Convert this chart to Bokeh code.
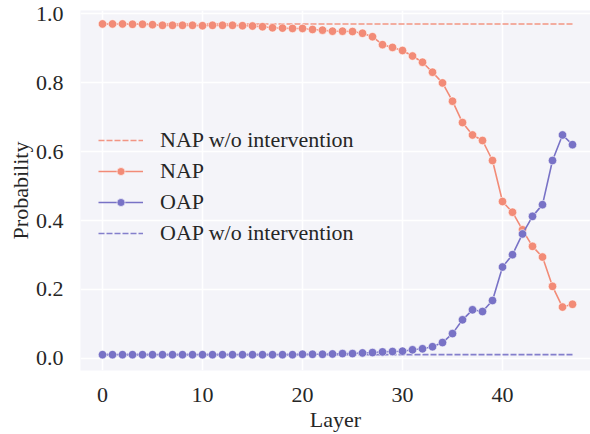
from bokeh.plotting import figure
from bokeh.models import Range1d, Legend, LegendItem, CustomJSTickFormatter
from bokeh.embed import file_html
from bokeh.resources import INLINE

layers = list(range(48))
nap = [0.970, 0.970, 0.970, 0.969, 0.969, 0.968, 0.966, 0.966, 0.966, 0.966,
       0.965, 0.966, 0.966, 0.966, 0.965, 0.964, 0.962, 0.959, 0.958, 0.957,
       0.957, 0.954, 0.952, 0.949, 0.949, 0.948, 0.943, 0.933, 0.910, 0.902,
       0.893, 0.877, 0.859, 0.830, 0.799, 0.746, 0.684, 0.648, 0.632, 0.574,
       0.455, 0.424, 0.373, 0.325, 0.294, 0.209, 0.149, 0.157]
oap = [0.011, 0.011, 0.011, 0.011, 0.011, 0.011, 0.011, 0.011, 0.011, 0.011,
       0.011, 0.011, 0.011, 0.011, 0.011, 0.011, 0.011, 0.011, 0.011, 0.011,
       0.012, 0.012, 0.012, 0.013, 0.014, 0.014, 0.016, 0.017, 0.019, 0.020,
       0.021, 0.025, 0.028, 0.034, 0.046, 0.072, 0.112, 0.141, 0.136, 0.168,
       0.265, 0.301, 0.361, 0.412, 0.446, 0.574, 0.648, 0.620]
nap_wo = [0.970] * 48
oap_wo = [0.011] * 48

x_ticks = [0, 10, 20, 30, 40]
y_ticks = [0.0, 0.2, 0.4, 0.6, 0.8, 1.0]

NAP_C = "#F28B77"
OAP_C = "#7872C6"
FONT = "Liberation Serif"
FS = "22px"

p = figure(width=590, height=434, output_backend="svg", toolbar_location=None,
           x_range=Range1d(-2.2, 48.8), y_range=Range1d(-0.035, 1.009),
           min_border_left=80, min_border_right=0, min_border_top=10,
           min_border_bottom=64)
p.background_fill_color = "#F4F4F9"
p.border_fill_color = "white"
p.outline_line_color = None

for g in p.grid:
    g.grid_line_color = "white"
    g.grid_line_width = 1.6
p.xgrid.ticker = x_ticks
p.ygrid.ticker = y_ticks

p.xaxis.ticker = x_ticks
p.yaxis.ticker = y_ticks
p.yaxis.formatter = CustomJSTickFormatter(code="return tick.toFixed(1);")

for ax in (p.xaxis[0], p.yaxis[0]):
    ax.axis_line_color = None
    ax.major_tick_line_color = None
    ax.minor_tick_line_color = None
    ax.major_label_text_font = FONT
    ax.major_label_text_font_size = FS
    ax.major_label_text_color = "#262626"
    ax.axis_label_text_font = FONT
    ax.axis_label_text_font_size = FS
    ax.axis_label_text_font_style = "normal"
    ax.axis_label_text_color = "#262626"
    ax.major_label_standoff = 11
p.xaxis.axis_label = "Layer"
p.yaxis.axis_label = "Probability"
p.xaxis.axis_label_standoff = 2
p.yaxis.axis_label_standoff = 0

r_napwo = p.line(layers, nap_wo, line_color=NAP_C, line_width=1.6,
                 line_dash="6 2", line_alpha=0.9)
r_oapwo = p.line(layers, oap_wo, line_color=OAP_C, line_width=1.6,
                 line_dash="6 2", line_alpha=0.9)
r_napl = p.line(layers, nap, line_color=NAP_C, line_width=1.6)
r_naps = p.scatter(layers, nap, size=8.5, fill_color=NAP_C, line_color="white",
                   line_width=0.6)
r_oapl = p.line(layers, oap, line_color=OAP_C, line_width=1.6)
r_oaps = p.scatter(layers, oap, size=8.5, fill_color=OAP_C, line_color="white",
                   line_width=0.6)

legend = Legend(items=[
    LegendItem(label="NAP w/o intervention", renderers=[r_napwo]),
    LegendItem(label="NAP", renderers=[r_napl, r_naps]),
    LegendItem(label="OAP", renderers=[r_oapl, r_oaps]),
    LegendItem(label="OAP w/o intervention", renderers=[r_oapwo]),
], location=(18, 124))
legend.background_fill_alpha = 0
legend.border_line_color = None
legend.padding = 0
legend.margin = 0
legend.spacing = 5
legend.glyph_width = 45
legend.glyph_height = 20
legend.label_height = 20
legend.label_standoff = 17
legend.label_text_font = FONT
legend.label_text_font_size = FS
legend.label_text_color = "#262626"
p.add_layout(legend, "center")

open("out.html", "w").write(file_html(p, INLINE))
